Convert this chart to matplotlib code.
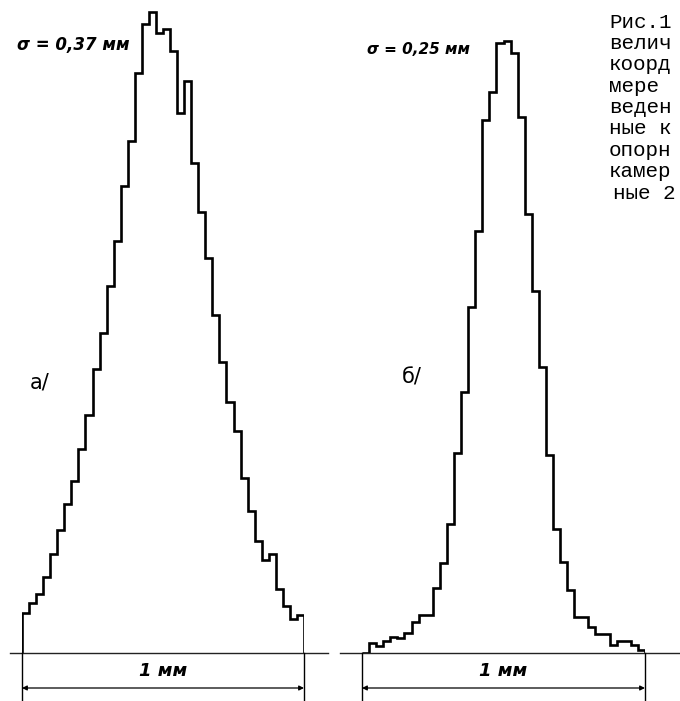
import numpy as np
import matplotlib
matplotlib.use('Agg')
import matplotlib.pyplot as plt

# счёт в каждом из 40 интервалов по 0,025 мм (отн. ед.)
counts_a = [40, 50, 59, 76, 99, 123, 149, 172, 204, 238,
            284, 320, 367, 412, 467, 512, 580, 629, 641, 620,
            624, 602, 540, 572, 490, 441, 395, 338, 291, 251,
            222, 175, 142, 112, 93, 99, 64, 47, 34, 38]
counts_b = [0, 10, 7, 12, 16, 15, 20, 31, 38, 38,
            65, 90, 129, 200, 261, 346, 422, 533, 561, 610,
            612, 600, 536, 439, 362, 286, 198, 124, 91, 63,
            36, 36, 26, 19, 19, 8, 12, 12, 8, 3]
sigma_labels = ['σ = 0,37 мм', 'σ = 0,25 мм']
panel_labels = ['а/', 'б/']
caption_lines = ['Рис.1', 'велич', 'коорд', 'мере', 'веден',
                 'ные к', 'опорн', 'камер', 'ные 2']

W, H = 680, 701
fig = plt.figure(figsize=(W / 100, H / 100), dpi=100)

edges = np.linspace(0, 1, len(counts_a) + 1)  # 1 мм


def panel(left_px, width_px, counts, base_from, base_to):
    ax = fig.add_axes([left_px / W, 48 / H, width_px / W, 653 / H])
    ax.set_xlim(0, 1)
    ax.set_ylim(0, 653)
    ax.axis('off')
    ax.stairs(counts, edges, baseline=0, color='black', lw=1.9)
    ax.plot([base_from, base_to], [0, 0], color='#222222', lw=1.0, clip_on=False)
    for x in (0, 1):
        ax.plot([x, x], [0, -48], color='black', lw=1.0, clip_on=False)
    ax.annotate('', xy=(0, -35), xytext=(1, -35), annotation_clip=False,
                arrowprops=dict(arrowstyle='<|-|>', lw=0.9, color='black',
                                mutation_scale=7, shrinkA=0, shrinkB=0))
    ax.text(0.5, -18, '1 мм', ha='center', va='center', fontsize=13,
            fontweight='bold', fontstyle='italic', clip_on=False)
    return ax


panel(22, 282, counts_a, -0.043, 1.085)
panel(362, 283, counts_b, -0.078, 1.13)

fig.text(17 / W, 1 - 45 / H, sigma_labels[0], ha='left', va='center',
         fontsize=12, fontweight='bold', fontstyle='italic')
fig.text(367 / W, 1 - 49 / H, sigma_labels[1], ha='left', va='center',
         fontsize=11, fontweight='bold', fontstyle='italic')

fig.text(30 / W, 1 - 383 / H, panel_labels[0], ha='left', va='center', fontsize=15)
fig.text(402 / W, 1 - 378 / H, panel_labels[1], ha='left', va='center', fontsize=15)

for i, line in enumerate(caption_lines):
    x0 = 613 if i == len(caption_lines) - 1 else 609
    fig.text(x0 / W, 1 - (22 + 21.4 * i) / H, line, ha='left', va='center',
             fontsize=15, family='Liberation Mono')

fig.savefig('out.png', dpi=100, facecolor='white')
